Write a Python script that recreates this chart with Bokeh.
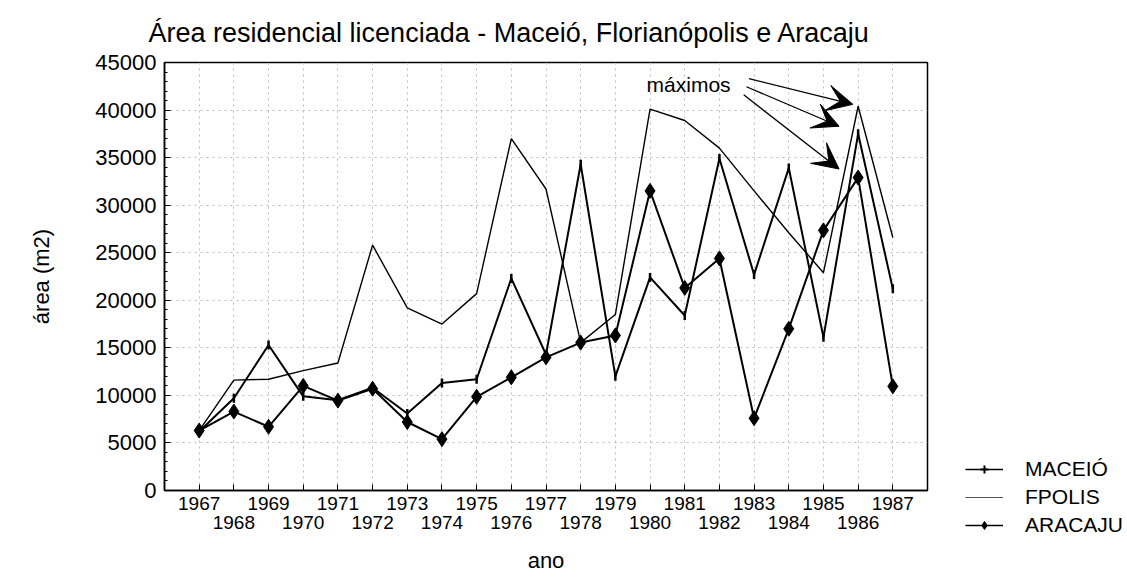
import math
from bokeh.plotting import figure
from bokeh.layouts import row, column
from bokeh.models import (FixedTicker, LinearAxis, Range1d, Legend, LegendItem,
                          Arrow, VeeHead, Label)
from bokeh.embed import file_html
from bokeh.resources import INLINE

# ---- data ----
years = list(range(1967, 1988))
maceio = [6200, 9700, 15300, 9900, 9500, 10800, 8100, 11300, 11700, 22300, 14300,
          34300, 12000, 22400, 18400, 34900, 22700, 33900, 16100, 37500, 21200]
fpolis = [6300, 11600, 11700, 12600, 13400, 25800, 19200, 17500, 20700, 37000, 31700,
          15550, 18500, 40100, 38900, 36000, 31500, 27100, 22900, 40400, 26600]
aracaju = [6300, 8300, 6700, 11000, 9450, 10700, 7200, 5400, 9850, 11900, 14000,
           15550, 16300, 31500, 21300, 24400, 7600, 17000, 27350, 32900, 10950]

y_ticks = list(range(0, 45001, 5000))
y_minor = list(range(0, 45001, 1000))
odd_years = [y for y in years if y % 2 == 1]
even_years = [y for y in years if y % 2 == 0]

title_text = "Área residencial licenciada - Maceió, Florianópolis e Aracaju"
series_names = ["MACEIÓ", "FPOLIS", "ARACAJU"]

# annotation "máximos" and its arrows (data coordinates)
note_text = "máximos"
note_pos = (1979.9, 42700)
arrow_start_x = [1982.85, 1982.78, 1982.70]
arrow_start_y = [43300, 42450, 41600]
arrow_end_x = [1985.85, 1985.45, 1985.45]
arrow_end_y = [40600, 38300, 33800]

FONT = "Liberation Sans"
INK = "black"

p = figure(width=935, height=582, output_backend="svg", toolbar_location=None,
           x_range=Range1d(1966, 1988), y_range=Range1d(0, 45000),
           min_border_left=164, min_border_right=8, min_border_top=61,
           min_border_bottom=92, background_fill_color="white",
           border_fill_color="white")

p.title.text = title_text
p.title.text_font = FONT
p.title.text_font_size = "27px"
p.title.text_font_style = "normal"
p.title.text_color = INK
p.title.align = "left"
p.title.offset = -16
p.title.standoff = 30

p.outline_line_color = "black"
p.outline_line_width = 1.5

# grids
p.xgrid.ticker = FixedTicker(ticks=years)
p.ygrid.ticker = FixedTicker(ticks=y_ticks)
for g in (p.xgrid, p.ygrid):
    g.grid_line_color = "#bdbdbd"
    g.grid_line_dash = "2 4"
    g.grid_line_width = 1

# x axis (odd-year row); even years are minor ticks of the same length
xa = p.xaxis[0]
xa.ticker = FixedTicker(ticks=odd_years, minor_ticks=even_years)
xa.major_tick_in = 6
xa.major_tick_out = 0
xa.minor_tick_in = 6
xa.minor_tick_out = 0
xa.major_label_standoff = 6
xa.major_label_text_font = FONT
xa.major_label_text_font_size = "19px"
xa.major_label_text_color = INK
xa.axis_line_color = "black"
xa.axis_line_width = 1.5

# second x axis (even-year row) with axis label
xa2 = LinearAxis(ticker=FixedTicker(ticks=even_years))
xa2.axis_line_color = None
xa2.major_tick_line_color = None
xa2.minor_tick_line_color = None
xa2.major_tick_in = 0
xa2.major_tick_out = 0
xa2.major_label_standoff = 3
xa2.major_label_text_font = FONT
xa2.major_label_text_font_size = "19px"
xa2.major_label_text_color = INK
xa2.axis_label = "ano"
xa2.axis_label_text_font = FONT
xa2.axis_label_text_font_size = "22px"
xa2.axis_label_text_font_style = "normal"
xa2.axis_label_text_color = INK
xa2.axis_label_standoff = 16
p.add_layout(xa2, "below")

# y axis
ya = p.yaxis[0]
ya.ticker = FixedTicker(ticks=y_ticks, minor_ticks=y_minor)
ya.major_tick_in = 6
ya.major_tick_out = 0
ya.minor_tick_in = 3
ya.minor_tick_out = 0
ya.major_label_standoff = 8
ya.major_label_text_font = FONT
ya.major_label_text_font_size = "22px"
ya.major_label_text_color = INK
ya.axis_line_color = "black"
ya.axis_line_width = 1.5
ya.axis_label = "área (m2)"
ya.axis_label_text_font = FONT
ya.axis_label_text_font_size = "22px"
ya.axis_label_text_font_style = "normal"
ya.axis_label_text_color = INK
ya.axis_label_standoff = 38

# series
r_m_line = p.line(years, maceio, line_color="black", line_width=2)
r_m_pts = p.scatter(years, maceio, marker="dash", angle=math.pi / 2, size=9,
                    line_color="black", line_width=2.5)
r_f_line = p.line(years, fpolis, line_color="black", line_width=1.4)
r_a_line = p.line(years, aracaju, line_color="black", line_width=2)
r_a_pts = p.scatter(years, aracaju, marker="diamond", size=15,
                    line_color="black", fill_color="black")

# annotation
p.add_layout(Label(x=note_pos[0], y=note_pos[1], text=note_text,
                   text_font=FONT, text_font_size="21px", text_color=INK,
                   text_baseline="middle", text_align="left"))
for x0, y0, x1, y1 in zip(arrow_start_x, arrow_start_y, arrow_end_x, arrow_end_y):
    p.add_layout(Arrow(x_start=x0, y_start=y0, x_end=x1, y_end=y1,
                       line_color="black", line_width=1.3,
                       end=VeeHead(size=26, fill_color="black",
                                   line_color="black", line_width=1)))

# legend panel: a second figure on the right (its glyphs sit off-range)
q = figure(width=192, height=582, output_backend="svg", toolbar_location=None,
           x_range=Range1d(0, 1), y_range=Range1d(0, 1), min_border=0,
           x_axis_location=None, y_axis_location=None,
           background_fill_color="white", border_fill_color="white")
q.grid.visible = False
q.outline_line_color = None
off = [-10, -9]
l_m_line = q.line(off, off, line_color="black", line_width=1.5)
l_m_pts = q.scatter(off, off, marker="cross", size=11,
                    line_color="black", line_width=2)
l_f_line = q.line(off, off, line_color="#555555", line_width=1.2)
l_a_line = q.line(off, off, line_color="black", line_width=1.5)
l_a_pts = q.scatter(off, off, marker="diamond", size=13,
                    line_color="black", fill_color="black")
legend = Legend(items=[
    LegendItem(label=series_names[0], renderers=[l_m_line, l_m_pts]),
    LegendItem(label=series_names[1], renderers=[l_f_line]),
    LegendItem(label=series_names[2], renderers=[l_a_line, l_a_pts]),
], location=(30, 45), label_text_font=FONT, label_text_font_size="21px",
    label_text_color=INK,
    glyph_width=38, glyph_height=20, label_height=20, spacing=4,
    label_standoff=22, padding=10, border_line_color=None,
    background_fill_alpha=0)
q.add_layout(legend)

layout = row(p, column(q), spacing=0)
open("out.html", "w").write(file_html(layout, INLINE))
